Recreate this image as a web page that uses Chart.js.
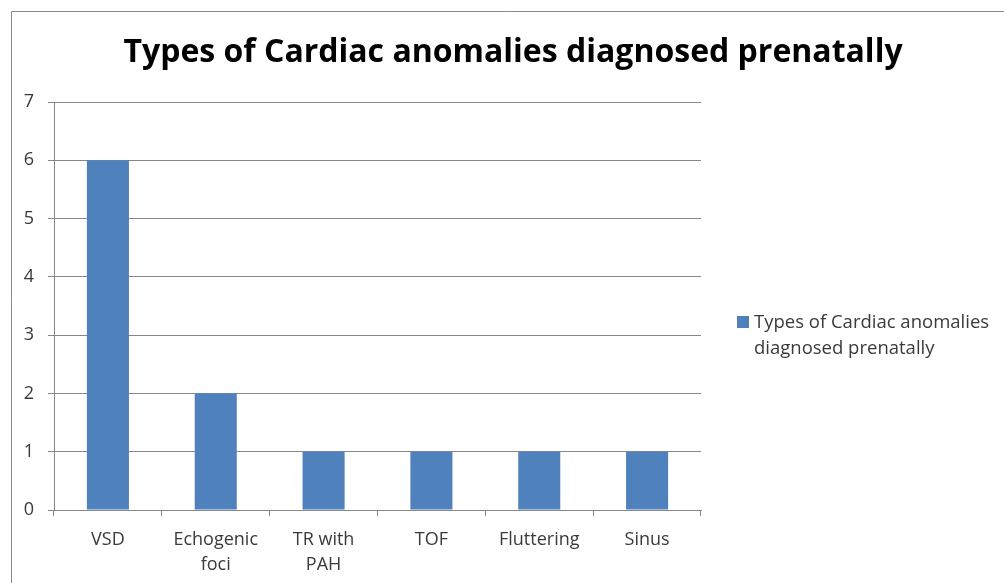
<!DOCTYPE html>
<html>
<head>
<meta charset="utf-8">
<script src="https://cdn.jsdelivr.net/npm/chart.js@4/dist/chart.umd.min.js"></script>
<style>
  html, body { margin: 0; padding: 0; background: #fff; }
  #wrap { width: 1004px; height: 583px; }
</style>
</head>
<body>
<div id="wrap"><canvas id="cardiacChart"></canvas></div>
<script>
// Chart data
const chartTitle = 'Types of Cardiac anomalies diagnosed prenatally';
const categories = ['VSD', ['Echogenic', 'foci'], ['TR with', 'PAH'], 'TOF', 'Fluttering', 'Sinus'];
const counts = [6, 2, 1, 1, 1, 1];
const yTicks = [0, 1, 2, 3, 4, 5, 6, 7];
const legendLines = ['Types of Cardiac anomalies', 'diagnosed prenatally'];

const barColor = '#4F81BD';
const gridColor = '#878787';
const textColor = '#3a3a3a';
const fontFamily = '"Open Sans", "Noto Sans", sans-serif';

// Frame, title and wrapped legend drawn on the canvas
const decorPlugin = {
    id: 'decor',
    afterDraw(chart) {
        const c = chart.ctx;
        c.save();
        // outer frame
        c.strokeStyle = '#8a8a8a';
        c.lineWidth = 1;
        c.beginPath();
        c.moveTo(11.5, 583);
        c.lineTo(11.5, 11.5);
        c.lineTo(1004, 11.5);
        c.stroke();

        // title
        c.fillStyle = '#000';
        c.font = 'bold 32px ' + fontFamily;
        c.textAlign = 'center';
        c.textBaseline = 'middle';
        c.fillText(chartTitle, 513, 53);

        // legend
        c.fillStyle = barColor;
        c.fillRect(737, 316, 12, 12);
        c.fillStyle = textColor;
        c.font = '18.5px ' + fontFamily;
        c.textAlign = 'left';
        legendLines.forEach((line, i) => c.fillText(line, 754, 323 + i * 26));
        c.restore();
    }
};

const ctx = document.getElementById('cardiacChart').getContext('2d');
const cardiacChart = new Chart(ctx, {
    type: 'bar',
    data: {
        labels: categories,
        datasets: [{
            label: chartTitle,
            data: counts,
            backgroundColor: barColor,
            categoryPercentage: 1,
            barPercentage: 0.39,
        }]
    },
    options: {
        responsive: true,
        maintainAspectRatio: false,
        animation: false,
        layout: { padding: { left: 11, top: 102, right: 303, bottom: 0 } },
        plugins: {
            legend: { display: false },
            title: { display: false },
            tooltip: { enabled: false },
        },
        scales: {
            x: {
                grid: { offset: true, drawOnChartArea: false, color: gridColor, tickLength: 6 },
                border: { color: gridColor },
                ticks: { color: textColor, font: { family: fontFamily, size: 18, lineHeight: 1.4 }, padding: 11, maxRotation: 0 },
                afterFit(scale) { scale.height = 73; },
            },
            y: {
                min: 0,
                max: 7,
                afterBuildTicks(scale) { scale.ticks = yTicks.map(v => ({ value: v })); },
                grid: { color: gridColor, tickLength: 6 },
                border: { color: gridColor },
                ticks: { color: textColor, font: { family: fontFamily, size: 18 }, padding: 14 },
                afterFit(scale) { scale.width = 43; },
            }
        }
    },
    plugins: [decorPlugin]
});
</script>
</body>
</html>
